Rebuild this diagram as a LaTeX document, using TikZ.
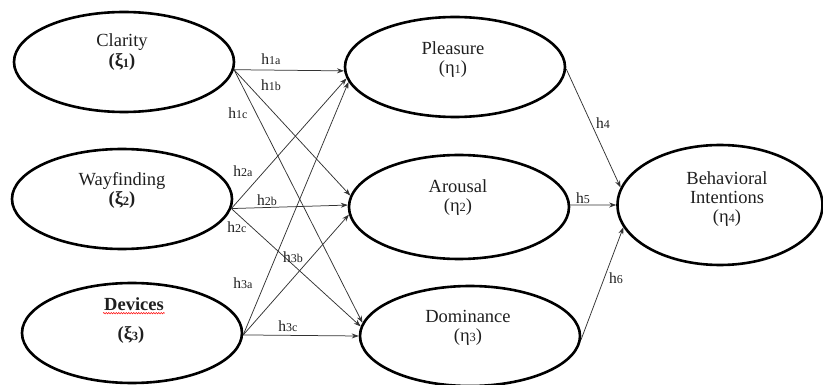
\documentclass[tikz,border=0pt]{standalone}
\usepackage{fontspec}
\setmainfont{Liberation Serif}
\newfontfamily\tms{Liberation Serif}
\usetikzlibrary{shapes.geometric,arrows.meta,decorations.pathmorphing}
\newcommand\lsub[1]{\raisebox{-0.5pt}{\fontsize{12.5}{12.5}\selectfont #1}}
\newcommand\hsub[1]{h\raisebox{-0.5pt}{\fontsize{12}{12}\selectfont #1}}
\begin{document}
\begin{tikzpicture}[x=1pt,y=-1pt,
 lv/.style={draw=black, line width=2.6pt, ellipse, inner sep=0pt, minimum width=220pt, minimum height=100pt},
 nm/.style={font=\tms\fontsize{18.5}{20}\selectfont, text=black!88, inner sep=1pt},
 hl/.style={font=\tms\fontsize{15.5}{16}\selectfont, text=black!88, inner sep=1pt},
 ar/.style={-{Stealth[length=7pt,width=5pt]}, line width=0.75pt, draw=black!80}]
\useasboundingbox (0,0) rectangle (823,385);
% latent variables
\node[lv] (C) at (124,62) {};
\node[lv] (W) at (122,199) {};
\node[lv] (D) at (132,333) {};
\node[lv] (P) at (455,67) {};
\node[lv, minimum height=104pt] (A) at (459,207) {};
\node[lv] (M) at (470,336) {};
\node[lv, minimum width=205pt, minimum height=120pt] (B) at (720,205) {};
% texts
\node[nm] (tC1) at (122,42) {Clarity};
\node[nm] (tC2) at (122,62) {\textbf{(ξ\lsub{1})}};
\node[nm] (tW1) at (122,181) {Wayfinding};
\node[nm] (tW2) at (122,200) {\textbf{(ξ\lsub{2})}};
\node[nm] (tD1) at (134,304) {\textbf{Devices}};
\node[nm] (tD2) at (131,335) {\textbf{(ξ\lsub{3})}};
\node[nm] (tP1) at (453,48) {Pleasure};
\node[nm] (tP2) at (453,69) {(η\lsub{1})};
\node[nm] (tA1) at (458,186) {Arousal};
\node[nm] (tA2) at (458,207) {(η\lsub{2})};
\node[nm] (tM1) at (468,316) {Dominance};
\node[nm] (tM2) at (468,337) {(η\lsub{3})};
\node[nm] (tB1) at (727,178) {Behavioral};
\node[nm] (tB2) at (727,197) {Intentions};
\node[nm] (tB3) at (727,218) {(η\lsub{4})};
\draw[red, line width=0.5pt, decorate, decoration={snake, amplitude=0.7pt, segment length=2.5pt}]
  ([yshift=-1.5pt]tD1.south west) -- ([yshift=-1.5pt]tD1.south east);
% paths
\draw[ar] (C.-4) -- (P.182);
\draw[ar] (C.-4) -- (A.174);
\draw[ar] (C.-4) -- (M.173);
\draw[ar] (W.-5) -- (P.186);
\draw[ar] (W.-5) -- (A.179);
\draw[ar] (W.-5) -- (M.175);
\draw[ar] (D.-1) -- (P.188);
\draw[ar] (D.-1) -- (A.184);
\draw[ar] (D.-1) -- (M.180);
\draw[ar] (P.-1) -- (B.170);
\draw[ar] (A.1) -- (B.180);
\draw[ar] (M.-2) -- (B.193);
% labels
\node[hl] (h1a) at (271,59) {\hsub{1a}};
\node[hl] (h1b) at (271,85) {\hsub{1b}};
\node[hl] (h1c) at (238,113) {\hsub{1c}};
\node[hl] (h2a) at (243,171) {\hsub{2a}};
\node[hl] (h2b) at (267,200) {\hsub{2b}};
\node[hl] (h2c) at (237,227) {\hsub{2c}};
\node[hl] (h3b) at (293,257) {\hsub{3b}};
\node[hl] (h3a) at (243,283) {\hsub{3a}};
\node[hl] (h3c) at (288,326) {\hsub{3c}};
\node[hl] (h4) at (603,123) {\hsub{4}};
\node[hl] (h5) at (583,198) {\hsub{5}};
\node[hl] (h6) at (616,278) {\hsub{6}};
\end{tikzpicture}
\end{document}
